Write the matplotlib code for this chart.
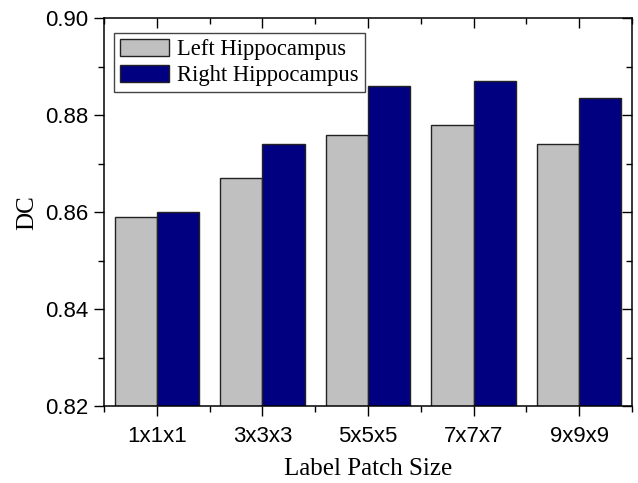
import matplotlib
matplotlib.use("Agg")
import matplotlib.pyplot as plt
import numpy as np
from matplotlib.ticker import MultipleLocator, FixedLocator

categories = ["1x1x1", "3x3x3", "5x5x5", "7x7x7", "9x9x9"]
left_hippo = [0.859, 0.867, 0.876, 0.878, 0.874]
right_hippo = [0.860, 0.874, 0.886, 0.887, 0.8835]
series_names = ["Left Hippocampus", "Right Hippocampus"]
yticks = [0.82, 0.84, 0.86, 0.88, 0.90]

fig = plt.figure(figsize=(6.38, 4.83), dpi=100)
ax = fig.add_axes([0.163, 0.1584, 0.8276, 0.8036])

x = np.arange(len(categories))
w = 0.4
ax.bar(x - w / 2, left_hippo, width=w, color="#C0C0C0", edgecolor="#222222",
       linewidth=1.0, label=series_names[0], zorder=2)
ax.bar(x + w / 2, right_hippo, width=w, color="#000080", edgecolor="#222222",
       linewidth=1.0, label=series_names[1], zorder=2)

ax.set_xlim(-0.5, 4.5)
ax.set_ylim(0.82, 0.90)
ax.set_xticks(x)
ax.set_xticklabels(categories, family="Liberation Sans", fontsize=16)
ax.set_yticks(yticks)
ax.set_yticklabels([f"{v:.2f}" for v in yticks], family="Liberation Sans", fontsize=16)
ax.xaxis.set_minor_locator(FixedLocator(np.arange(-0.5, 4.6, 1.0)))
ax.yaxis.set_minor_locator(MultipleLocator(0.01))

for s in ax.spines.values():
    s.set_linewidth(1.1)
    s.set_color("black")

ax.tick_params(axis="both", which="major", direction="out", length=7, width=1.0,
               pad=4)
ax.tick_params(axis="both", which="minor", direction="out", length=4, width=1.0)
ax.tick_params(axis="x", which="both", top=True)
ax.tick_params(axis="y", which="both", right=True)
ax.tick_params(axis="x", which="major", pad=7)
# inward ticks on top and right
for t in ax.xaxis.get_major_ticks() + ax.xaxis.get_minor_ticks():
    t.tick2line.set_marker(matplotlib.lines.TICKDOWN)
for t in ax.yaxis.get_major_ticks() + ax.yaxis.get_minor_ticks():
    t.tick2line.set_marker(matplotlib.lines.TICKLEFT)

ax.set_xlabel("Label Patch Size", family="Liberation Serif", fontsize=18, labelpad=8)
ax.set_ylabel("DC", family="Liberation Serif", fontsize=18, labelpad=5)

leg = ax.legend(loc="upper left", bbox_to_anchor=(0.019, 0.962), borderaxespad=0,
                prop={"family": "Liberation Serif", "size": 16.3},
                fancybox=False, framealpha=1, edgecolor="#444444",
                handlelength=2.2, handleheight=0.8, handletextpad=0.35,
                labelspacing=0.2, borderpad=0.25)
leg.get_frame().set_linewidth(1.0)

fig.savefig("out.png", dpi=100)
